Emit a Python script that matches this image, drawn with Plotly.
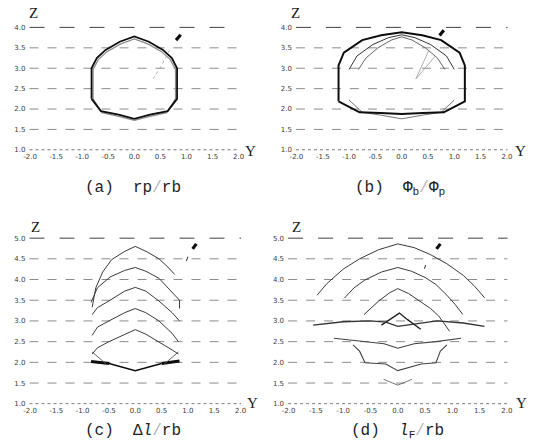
import plotly.graph_objects as go

W, H = 535, 446

# ---------------- data ----------------
# axis ticks
y_ticks = [-2.0, -1.5, -1.0, -0.5, 0.0, 0.5, 1.0, 1.5, 2.0]
z_ticks_top = [1.0, 1.5, 2.0, 2.5, 3.0, 3.5, 4.0]
z_ticks_bot = [1.0, 1.5, 2.0, 2.5, 3.0, 3.5, 4.0, 4.5, 5.0]

# (a) rp/rb : two nearly coincident closed sections
a_outer_y = [-0.82, -0.82, -0.72, -0.55, -0.28, 0.0, 0.28, 0.55, 0.72, 0.82, 0.82, 0.64, 0.3, 0.0, -0.3, -0.64, -0.82]
a_outer_z = [2.25, 3.0, 3.25, 3.45, 3.65, 3.78, 3.65, 3.45, 3.25, 3.0, 2.25, 1.95, 1.86, 1.76, 1.86, 1.95, 2.25]
a_inner_y = [-0.79, -0.79, -0.69, -0.53, -0.27, 0.0, 0.27, 0.53, 0.69, 0.79, 0.79, 0.62, 0.3, 0.0, -0.3, -0.62, -0.79]
a_inner_z = [2.25, 2.97, 3.21, 3.4, 3.59, 3.72, 3.59, 3.4, 3.21, 2.97, 2.25, 1.91, 1.82, 1.72, 1.82, 1.91, 2.25]
a_lead_y = [0.36, 0.5, 0.68]
a_lead_z = [2.74, 3.02, 3.45]
a_arrow_y = [0.89, 0.8]
a_arrow_z = [3.82, 3.69]

# (b) Φb/Φp
b_outer_y = [-1.2, -1.2, -1.1, -0.75, -0.39, 0.0, 0.39, 0.75, 1.1, 1.2, 1.2, 0.8, 0.4, 0.0, -0.4, -0.8, -1.2]
b_outer_z = [2.19, 3.07, 3.38, 3.69, 3.81, 3.88, 3.81, 3.69, 3.38, 3.07, 2.19, 1.92, 1.9, 1.88, 1.9, 1.92, 2.19]
b_in1_y = [-1.0, -0.85, -0.55, -0.25, 0.0, 0.25, 0.55, 0.85, 1.0]
b_in1_z = [2.97, 3.3, 3.58, 3.75, 3.82, 3.75, 3.58, 3.3, 2.97]
b_in2_y = [-0.82, -0.68, -0.45, -0.2, 0.0, 0.2, 0.45, 0.68, 0.82]
b_in2_z = [2.97, 3.25, 3.5, 3.69, 3.77, 3.69, 3.5, 3.25, 2.97]
b_low_y = [-1.0, -0.75, -0.4, 0.0, 0.4, 0.75, 1.0]
b_low_z = [2.22, 1.92, 1.85, 1.76, 1.85, 1.92, 2.22]
b_lead1_y = [0.27, 0.52]
b_lead1_z = [2.74, 3.45]
b_lead2_y = [0.27, 0.64]
b_lead2_z = [2.74, 3.3]
b_arrow_y = [0.8, 0.72]
b_arrow_z = [3.93, 3.8]

# (c) Δl/rb : successive section tops
c1_y = [-0.82, -0.75, -0.62, -0.45, -0.2, 0.0, 0.22, 0.45, 0.62, 0.75]
c1_z = [3.33, 3.8, 4.18, 4.48, 4.68, 4.8, 4.67, 4.5, 4.3, 4.12]
c2_y = [-0.84, -0.72, -0.48, -0.2, 0.0, 0.2, 0.45, 0.7, 0.84, 0.84]
c2_z = [3.45, 3.8, 4.06, 4.22, 4.29, 4.2, 4.03, 3.7, 3.5, 3.3]
c3_y = [-0.82, -0.72, -0.48, -0.2, 0.0, 0.2, 0.45, 0.7, 0.84]
c3_z = [3.15, 3.32, 3.5, 3.72, 3.81, 3.72, 3.48, 3.2, 3.0]
c4_y = [-0.82, -0.72, -0.5, -0.2, 0.0, 0.2, 0.45, 0.7, 0.82]
c4_z = [2.65, 2.85, 3.0, 3.2, 3.3, 3.2, 3.0, 2.7, 2.5]
c5_y = [-0.82, -0.72, -0.5, -0.2, 0.0, 0.2, 0.45, 0.7, 0.82]
c5_z = [2.2, 2.35, 2.5, 2.68, 2.79, 2.68, 2.5, 2.3, 2.2]
c_base_y = [-0.5, 0.0, 0.5]
c_base_z = [1.97, 1.8, 1.97]
c_thickL_y = [-0.84, -0.5]
c_thickL_z = [2.02, 1.97]
c_thickR_y = [0.5, 0.84]
c_thickR_z = [1.97, 2.03]
c_crossL_y = [-0.82, -0.55]
c_crossL_z = [2.25, 1.96]
c_crossR_y = [0.82, 0.55]
c_crossR_z = [2.25, 1.96]
c_arrow_y = [1.16, 1.09]
c_arrow_z = [4.86, 4.74]
c_tick_y = [1.0, 0.97]
c_tick_z = [4.55, 4.45]

# (d) lF/rb
d1_y = [-1.48, -1.3, -1.0, -0.7, -0.35, 0.0, 0.3, 0.6, 0.9, 1.2, 1.4, 1.59]
d1_z = [3.62, 3.9, 4.25, 4.5, 4.72, 4.86, 4.77, 4.6, 4.38, 4.1, 3.85, 3.56]
d2_y = [-0.98, -0.8, -0.6, -0.3, 0.0, 0.25, 0.5, 0.7, 0.9, 1.05, 1.19]
d2_z = [3.55, 3.8, 3.99, 4.18, 4.29, 4.2, 4.05, 3.88, 3.62, 3.4, 3.16]
d3_y = [-0.62, -0.5, -0.35, -0.15, 0.0, 0.2, 0.43, 0.6, 0.75, 0.95]
d3_z = [3.15, 3.3, 3.48, 3.68, 3.78, 3.66, 3.46, 3.3, 3.12, 2.75]
d4_y = [-0.3, 0.03, 0.18, 0.42]
d4_z = [2.9, 3.19, 3.03, 2.8]
d5_y = [-1.55, -1.0, -0.5, -0.22, 0.0, 0.3, 0.72, 1.2, 1.59]
d5_z = [2.9, 2.98, 3.0, 2.97, 2.87, 2.93, 3.0, 2.95, 2.87]
d6_y = [-1.17, -0.6, -0.25, 0.0, 0.3, 0.7, 1.16]
d6_z = [2.58, 2.5, 2.45, 2.34, 2.45, 2.5, 2.58]
d7_y = [-0.82, -0.7, -0.6, -0.22, 0.0, 0.43, 0.7, 0.78, 0.9]
d7_z = [2.42, 2.27, 1.99, 1.96, 1.8, 1.96, 1.99, 2.27, 2.42]
d8_y = [-0.26, 0.0, 0.26]
d8_z = [1.59, 1.45, 1.59]
d_arrow_y = [0.78, 0.71]
d_arrow_z = [4.86, 4.74]
d_tick_y = [0.51, 0.49]
d_tick_z = [4.35, 4.26]

# ---------------- layout helpers ----------------
def px_x(p):
    return p / W

def px_y(p):
    return 1 - p / H

panels = {
    "a": dict(ax="x", ay="y", xdom=(24, 238), ydom=(150, 24), zr=(1.0, 4.0), zt=z_ticks_top),
    "b": dict(ax="x2", ay="y2", xdom=(296, 512), ydom=(150, 24), zr=(1.0, 4.0), zt=z_ticks_top),
    "c": dict(ax="x3", ay="y3", xdom=(24, 240), ydom=(408, 238), zr=(1.0, 5.0), zt=z_ticks_bot),
    "d": dict(ax="x4", ay="y4", xdom=(288, 512), ydom=(408, 238), zr=(1.0, 5.0), zt=z_ticks_bot),
}

fig = go.Figure()

DARK = "#2a2a2a"
BLACK = "#0d0d0d"
FAINT = "#9a9a9a"


def line(p, ys, zs, color=DARK, width=1.1, dash="solid"):
    fig.add_trace(go.Scatter(
        x=ys, y=zs, mode="lines", xaxis=panels[p]["ax"], yaxis=panels[p]["ay"],
        line=dict(color=color, width=width, dash=dash), hoverinfo="skip", showlegend=False,
    ))


# (a)
line("a", a_inner_y, a_inner_z, color="#8a8a8a", width=1.2)
line("a", a_outer_y, a_outer_z, color=BLACK, width=1.8)
line("a", a_lead_y, a_lead_z, color=FAINT, width=0.8, dash="dot")
line("a", a_arrow_y, a_arrow_z, color=BLACK, width=3.2)

# (b)
line("b", b_in2_y, b_in2_z, color="#555", width=0.9)
line("b", b_in1_y, b_in1_z, color="#333", width=1.0)
line("b", b_low_y, b_low_z, color="#666", width=0.9)
line("b", b_outer_y, b_outer_z, color=BLACK, width=2.0)
line("b", b_lead1_y, b_lead1_z, color=FAINT, width=0.8)
line("b", b_lead2_y, b_lead2_z, color=FAINT, width=0.8)
line("b", b_arrow_y, b_arrow_z, color=BLACK, width=3.2)

# (c)
for ys, zs in [(c1_y, c1_z), (c2_y, c2_z), (c3_y, c3_z), (c4_y, c4_z), (c5_y, c5_z)]:
    line("c", ys, zs, color="#3a3a3a", width=1.0)
line("c", c_base_y, c_base_z, color=BLACK, width=1.5)
line("c", c_thickL_y, c_thickL_z, color=BLACK, width=3.0)
line("c", c_thickR_y, c_thickR_z, color=BLACK, width=3.0)
line("c", c_crossL_y, c_crossL_z, color="#555", width=0.9)
line("c", c_crossR_y, c_crossR_z, color="#555", width=0.9)
line("c", c_arrow_y, c_arrow_z, color=BLACK, width=3.2)
line("c", c_tick_y, c_tick_z, color=DARK, width=1.0)

# (d)
for ys, zs in [(d1_y, d1_z), (d2_y, d2_z), (d3_y, d3_z)]:
    line("d", ys, zs, color="#3a3a3a", width=1.0)
line("d", d4_y, d4_z, color="#222", width=1.4)
line("d", d5_y, d5_z, color="#333", width=1.3)
line("d", d6_y, d6_z, color="#444", width=1.1)
line("d", d7_y, d7_z, color="#444", width=1.1)
line("d", d8_y, d8_z, color="#666", width=0.9)
line("d", d_arrow_y, d_arrow_z, color=BLACK, width=3.2)
line("d", d_tick_y, d_tick_z, color=DARK, width=1.0)

# ---------------- axes ----------------
tick_font = dict(family="DejaVu Sans", size=7, color="#3c3c3c")
layout_axes = {}
shapes = []
for key, p in panels.items():
    xname = "xaxis" + p["ax"][1:]
    yname = "yaxis" + p["ay"][1:]
    pad = 0.02
    layout_axes[xname] = dict(
        domain=[px_x(p["xdom"][0]), px_x(p["xdom"][1])], range=[-2.0 - 0.01, 2.0 + 0.01],
        anchor=p["ay"], tickvals=y_ticks, ticktext=[f"{v:.1f}" for v in y_ticks],
        showgrid=False, zeroline=False, showline=False, ticks="", tickfont=tick_font,
        fixedrange=True, ticklabelstandoff=0,
    )
    layout_axes[yname] = dict(
        domain=[px_y(p["ydom"][0]), px_y(p["ydom"][1])], range=[p["zr"][0] - pad, p["zr"][1] + pad],
        anchor=p["ax"], tickvals=p["zt"], ticktext=[f"{v:.1f}" for v in p["zt"]],
        showgrid=False, zeroline=False, showline=False, ticks="", tickfont=tick_font,
        fixedrange=True, ticklabelstandoff=3,
    )
    # horizontal reference lines at each Z tick
    for i, z in enumerate(p["zt"]):
        if i == 0:
            style = dict(color="#6a6a6a", width=1, dash="dot")
        elif i == len(p["zt"]) - 1:
            style = dict(color="#555", width=1.2, dash="longdash")
        else:
            style = dict(color="#8c8c8c", width=1, dash="dash")
        shapes.append(dict(
            type="line", xref=p["ax"] + " domain", yref=p["ay"],
            x0=0, x1=1, y0=z, y1=z, line=style, layer="below",
        ))

# ---------------- labels ----------------
ann = []
serif = dict(family="Liberation Serif", size=15, color="#1a1a1a")
for key, zx, zy, yx, yy in [("a", 28, 10, 250, 150), ("b", 296, 10, 525, 150),
                            ("c", 30, 228, 252, 406), ("d", 297, 228, 526, 406)]:
    ann.append(dict(text="Z", x=px_x(zx), y=px_y(zy), xref="paper", yref="paper",
                    showarrow=False, font=serif, xanchor="center", yanchor="middle"))
    ann.append(dict(text="Y", x=px_x(yx), y=px_y(yy), xref="paper", yref="paper",
                    showarrow=False, font=serif, xanchor="center", yanchor="middle"))

slash = "<span style='color:#b5b5b5'>/</span>"
captions = [
    ("(a)  rp" + slash + "rb", 130, 188),
    ("(b)  Φ<sub>b</sub>" + slash + "Φ<sub>p</sub>", 402, 188),
    ("(c)  Δ<i>l</i>" + slash + "rb", 130, 435),
    ("(d)  <i>l</i><sub>F</sub>" + slash + "rb", 400, 435),
]
cap_font = dict(family="Liberation Mono", size=16, color="#1e1e1e")
for text, cx, cy in captions:
    ann.append(dict(text=text, x=px_x(cx), y=px_y(cy), xref="paper", yref="paper",
                    showarrow=False, font=cap_font, xanchor="center", yanchor="middle"))

fig.update_layout(
    width=W, height=H, autosize=False,
    margin=dict(l=0, r=0, t=0, b=0),
    paper_bgcolor="white", plot_bgcolor="white",
    showlegend=False, shapes=shapes, annotations=ann,
    **layout_axes,
)

fig.write_html("out.html", config={"displayModeBar": False})
